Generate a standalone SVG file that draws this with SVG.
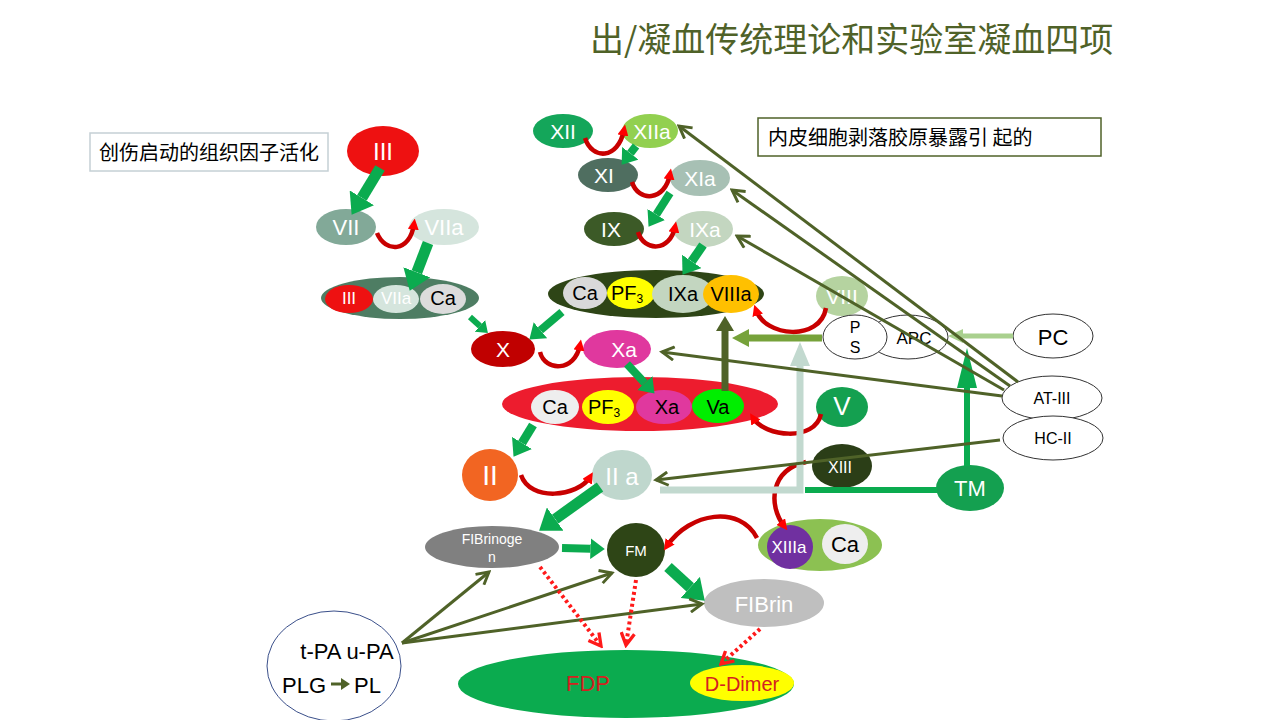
<svg xmlns="http://www.w3.org/2000/svg" width="1280" height="720" viewBox="0 0 1280 720">
<style>
.t{font-family:"Liberation Sans",Arial,sans-serif;text-anchor:middle;dominant-baseline:central}
.w{fill:#fff}
.k{fill:#000}
.cjk{font-family:"Noto Sans CJK SC",sans-serif}
.g{stroke:#0bab4f;fill:none;marker-end:url(#ga)}
.o{stroke:#4f6228;fill:none;stroke-width:3;marker-end:url(#oa)}
.r{stroke:#c80000;fill:none;stroke-width:4.5;marker-end:url(#ra)}
.d{stroke:#ff1a1a;fill:none;stroke-width:4;stroke-dasharray:3 3;marker-end:url(#da)}
</style>
<defs>
<marker id="ga" viewBox="0 0 10 10" refX="0" refY="5" markerWidth="1.8" markerHeight="2.6" preserveAspectRatio="none" orient="auto"><path d="M0,0 L10,5 L0,10z" fill="#0bab4f"/></marker>
<marker id="oa" viewBox="0 0 12 12" refX="10" refY="6" markerWidth="16" markerHeight="16" markerUnits="userSpaceOnUse" orient="auto"><path d="M1,1 L10,6 L1,11" fill="none" stroke="#4f6228" stroke-width="2.2"/></marker>
<marker id="ra" viewBox="0 0 10 10" refX="5" refY="5" markerWidth="11" markerHeight="11" markerUnits="userSpaceOnUse" orient="auto"><path d="M0,0 L10,5 L0,10z" fill="#ff0000"/></marker>
<marker id="da" viewBox="0 0 12 12" refX="10" refY="6" markerWidth="16" markerHeight="16" markerUnits="userSpaceOnUse" orient="auto"><path d="M1,1 L10,6 L1,11" fill="none" stroke="#ff1a1a" stroke-width="2.5"/></marker>
</defs>
<rect width="1280" height="720" fill="#fff"/>

<text x="590" y="52" class="cjk" font-size="34" fill="#4f6228">出/凝血传统理论和实验室凝血四项</text>

<g id="box1">
<rect x="90" y="133" width="238" height="38" fill="#fff" stroke="#c5d0d5" stroke-width="1.5"/>
<text x="99" y="160" class="cjk" font-size="20" fill="#000">创伤启动的组织因子活化</text>
</g>
<g id="box2">
<rect x="758" y="118" width="343" height="38" fill="#fff" stroke="#4f6228" stroke-width="1.5"/>
<text x="768" y="145" class="cjk" font-size="20" fill="#000">内皮细胞剥落胶原暴露引 起的</text>
</g>

<g id="nIII"><ellipse cx="383" cy="151" rx="36" ry="25" fill="#ee1111"/><text x="383" y="151" class="t w" font-size="24">III</text></g>
<g id="nVII"><ellipse cx="346" cy="227" rx="30" ry="18" fill="#82a998"/><text x="346" y="227" class="t w" font-size="22">VII</text></g>
<g id="nVIIa"><ellipse cx="444" cy="227" rx="35" ry="18" fill="#d5e5dd"/><text x="444" y="227" class="t w" font-size="22">VIIa</text></g>
<g id="cTF">
<ellipse cx="400" cy="298" rx="79" ry="21" fill="#4e7d63"/>
<ellipse cx="349" cy="299" rx="24" ry="14" fill="#ee1111"/><text x="349" y="298" class="t w" font-size="17">III</text>
<ellipse cx="396" cy="299" rx="23" ry="14" fill="#d5e5dd"/><text x="396" y="298" class="t w" font-size="17">VIIa</text>
<ellipse cx="443" cy="299" rx="23" ry="15" fill="#dcdcdc"/><text x="443" y="298" class="t k" font-size="20">Ca</text>
</g>

<g id="nXII"><ellipse cx="563" cy="131" rx="30" ry="17" fill="#14a65a"/><text x="563" y="131" class="t w" font-size="21">XII</text></g>
<g id="nXIIa"><ellipse cx="650" cy="131" rx="28" ry="17" fill="#92d050"/><text x="652" y="131" class="t w" font-size="21">XIIa</text></g>
<g id="nXI"><ellipse cx="608" cy="175" rx="30" ry="17" fill="#4f6e60"/><text x="604" y="175" class="t w" font-size="21">XI</text></g>
<g id="nXIa"><ellipse cx="700" cy="178" rx="30" ry="18" fill="#a7c0b4"/><text x="700" y="178" class="t w" font-size="21">XIa</text></g>
<g id="nIX"><ellipse cx="614" cy="229" rx="30" ry="17" fill="#3c5a27"/><text x="611" y="229" class="t w" font-size="21">IX</text></g>
<g id="nIXa"><ellipse cx="703" cy="229" rx="30" ry="18" fill="#c3d6c0"/><text x="705" y="229" class="t w" font-size="21">IXa</text></g>
<g id="cTen">
<ellipse cx="656" cy="294" rx="108" ry="24" fill="#2e4516"/>
<ellipse cx="585" cy="293" rx="22" ry="16" fill="#d9d9d9"/><text x="585" y="293" class="t k" font-size="20">Ca</text>
<ellipse cx="631" cy="293" rx="24" ry="16" fill="#ffff00"/><text x="627" y="293" class="t k" font-size="20">PF<tspan font-size="12" dy="6">3</tspan></text>
<ellipse cx="683" cy="294" rx="31" ry="19" fill="#c3d6c0"/><text x="683" y="294" class="t k" font-size="20">IXa</text>
<ellipse cx="731" cy="294" rx="28" ry="19" fill="#ffc000"/><text x="731" y="294" class="t k" font-size="20">VIIIa</text>
</g>
<g id="nVIII"><ellipse cx="842" cy="296" rx="26" ry="20" fill="#b5d3a0"/><text x="842" y="296" class="t w" font-size="21">VIII</text></g>
<g id="nAPC"><ellipse cx="908" cy="337" rx="40" ry="22" fill="#fff" stroke="#333" stroke-width="1"/><text x="914" y="338" class="t k" font-size="17">APC</text></g>
<g id="nPS"><ellipse cx="855" cy="337" rx="32" ry="22" fill="#fff" stroke="#333" stroke-width="1"/><text x="855" y="327" class="t k" font-size="16">P</text><text x="855" y="347" class="t k" font-size="16">S</text></g>
<g id="nPC"><ellipse cx="1053" cy="336" rx="40" ry="22" fill="#fff" stroke="#333" stroke-width="1"/><text x="1053" y="337" class="t k" font-size="22">PC</text></g>
<g id="nAT"><ellipse cx="1052" cy="398" rx="50" ry="22" fill="#fff" stroke="#333" stroke-width="1"/><text x="1052" y="398" class="t k" font-size="16">AT-III</text></g>
<g id="nHC"><ellipse cx="1053" cy="438" rx="50" ry="22" fill="#fff" stroke="#333" stroke-width="1"/><text x="1053" y="438" class="t k" font-size="16">HC-II</text></g>

<g id="nX"><ellipse cx="503" cy="349" rx="32" ry="18" fill="#c00000"/><text x="503" y="349" class="t w" font-size="21">X</text></g>
<g id="nXa"><ellipse cx="617" cy="349" rx="34" ry="19" fill="#e0389e"/><text x="624" y="349" class="t w" font-size="21">Xa</text></g>
<g id="cPro">
<ellipse cx="640" cy="404" rx="138" ry="27" fill="#ed1c2e"/>
<ellipse cx="555" cy="407" rx="24" ry="17" fill="#eeeeee"/><text x="555" y="407" class="t k" font-size="20">Ca</text>
<ellipse cx="608" cy="407" rx="26" ry="17" fill="#ffff00"/><text x="604" y="407" class="t k" font-size="20">PF<tspan font-size="12" dy="6">3</tspan></text>
<ellipse cx="664" cy="407" rx="28" ry="17" fill="#e0389e"/><text x="667" y="407" class="t k" font-size="20">Xa</text>
<ellipse cx="718" cy="406" rx="26" ry="17" fill="#00ee00"/><text x="718" y="407" class="t k" font-size="20">Va</text>
</g>
<g id="nV"><ellipse cx="842" cy="407" rx="26" ry="20" fill="#14a050"/><text x="842" y="406" class="t w" font-size="26">V</text></g>
<g id="nII"><ellipse cx="490" cy="475" rx="28" ry="26" fill="#f26522"/><text x="490" y="475" class="t w" font-size="28">II</text></g>
<g id="nIIa"><ellipse cx="622" cy="475" rx="30" ry="25" fill="#bfd7cd"/><text x="622" y="476" class="t w" font-size="24">II a</text></g>
<g id="nXIII"><ellipse cx="842" cy="466" rx="30" ry="22" fill="#2b3e17"/><text x="840" y="467" class="t w" font-size="16">XIII</text></g>
<g id="nTM"><ellipse cx="970" cy="488" rx="34" ry="23" fill="#14a050"/><text x="970" y="488" class="t w" font-size="22">TM</text></g>

<g id="nFbg"><ellipse cx="492" cy="547" rx="67" ry="21" fill="#808080"/><text x="492" y="539" class="t w" font-size="14">FIBrinoge</text><text x="492" y="557" class="t w" font-size="14">n</text></g>
<g id="nFM"><ellipse cx="636" cy="550" rx="29" ry="27" fill="#2e4516"/><text x="636" y="550" class="t w" font-size="15">FM</text></g>
<g id="cXIIIa">
<ellipse cx="820" cy="545" rx="62" ry="26" fill="#8cc152"/>
<ellipse cx="790" cy="547" rx="23" ry="22" fill="#7030a0"/><text x="789" y="547" class="t w" font-size="17">XIIIa</text>
<ellipse cx="845" cy="544" rx="23" ry="20" fill="#eeeeee"/><text x="845" y="544" class="t k" font-size="22">Ca</text>
</g>
<g id="nFbn"><ellipse cx="764" cy="603" rx="60" ry="24" fill="#bfbfbf"/><text x="764" y="604" class="t w" font-size="22">FIBrin</text></g>

<g id="nPA">
<ellipse cx="334" cy="666" rx="67" ry="55" fill="#fff" stroke="#3a4f8a" stroke-width="1"/>
<text x="347" y="651" class="t k" font-size="22">t-PA u-PA</text>
<text x="282" y="685" class="t k" font-size="22" style="text-anchor:start">PLG</text>
<text x="354" y="685" class="t k" font-size="22" style="text-anchor:start">PL</text>
<line x1="331" y1="684" x2="343" y2="684" stroke="#4f6228" stroke-width="3"/>
<path d="M341,678 L350,684 L341,690z" fill="#4f6228"/>
</g>

<g id="nFDP">
<ellipse cx="626" cy="684" rx="168" ry="34" fill="#0bab4f"/>
<text x="588" y="683" class="t" font-size="22" fill="#d42020">FDP</text>
<ellipse cx="742" cy="683" rx="52" ry="18" fill="#ffff00"/>
<text x="742" y="684" class="t" font-size="20" fill="#d42020">D-Dimer</text>
</g>

<g id="connectors">
<line class="g" x1="380" y1="168" x2="361.9" y2="197.8" stroke-width="11"/>
<line class="g" x1="428" y1="243" x2="416.8" y2="272.3" stroke-width="11"/>
<line class="g" x1="470" y1="317" x2="479.9" y2="325.9" stroke-width="6"/>
<line class="g" x1="636" y1="146" x2="630.4" y2="153.3" stroke-width="8"/>
<line class="g" x1="670" y1="193" x2="656.3" y2="214.5" stroke-width="8"/>
<line class="g" x1="703" y1="245" x2="691.7" y2="261.4" stroke-width="9"/>
<line class="g" x1="562" y1="312" x2="540.4" y2="330.2" stroke-width="8"/>
<line class="g" x1="627" y1="364" x2="644.7" y2="383" stroke-width="8"/>
<line class="g" x1="533" y1="425" x2="522" y2="443" stroke-width="9"/>
<line class="g" x1="600" y1="487" x2="555.2" y2="519.1" stroke-width="11"/>
<line class="g" x1="562" y1="548" x2="590.4" y2="548.7" stroke-width="8"/>
<line class="g" x1="668" y1="567" x2="690.2" y2="587.4" stroke-width="11"/>

<path class="r" d="M585,138 C592,160 618,160 624,130"/>
<path class="r" d="M632,182 C638,202 665,202 670,174"/>
<path class="r" d="M638,232 C644,252 670,252 675,227"/>
<path class="r" d="M377,233 C385,253 410,253 414,224"/>
<path class="r" d="M540,352 C545,372 575,372 580,345"/>
<path class="r" d="M521,475 C530,502 578,497 590,477"/>
<path class="r" d="M826,308 C820,342 765,337 756,310"/>
<path class="r" d="M821,414 C815,442 765,437 753,418"/>
<path class="r" d="M806,462 C770,470 768,505 784,526"/>
<path class="r" d="M757,538 C740,505 690,512 667,546"/>

<line x1="725" y1="391" x2="725" y2="330" stroke="#4f6228" stroke-width="7"/>
<path d="M716,331 L725,316 L734,331z" fill="#4f6228"/>
<line x1="822" y1="338" x2="748" y2="338" stroke="#76a23a" stroke-width="7"/>
<path d="M749,329 L732,338 L749,347z" fill="#76a23a"/>
<line x1="1013" y1="336" x2="962" y2="336" stroke="#a9d08e" stroke-width="5"/>
<path d="M963,329 L948,336 L963,343z" fill="#a9d08e"/>
<path d="M660,490 L800,490 L800,365" fill="none" stroke="#c2d9cf" stroke-width="7"/>
<path d="M790,366 L800,342 L810,366z" fill="#c2d9cf"/>
<path d="M805,490 L937,490" fill="none" stroke="#0bab4f" stroke-width="6"/>
<line x1="967" y1="466" x2="967" y2="385" stroke="#0bab4f" stroke-width="6"/>
<path d="M957,388 L967,348 L977,388z" fill="#0bab4f"/>

<line class="o" x1="1018" y1="382" x2="679" y2="126" stroke-width="4"/>
<line class="o" x1="1010" y1="386" x2="732" y2="190" stroke-width="4"/>
<line class="o" x1="1004" y1="390" x2="737" y2="236" stroke-width="4"/>
<line class="o" x1="1002" y1="396" x2="662" y2="352" stroke-width="4"/>
<line class="o" x1="1000" y1="440" x2="656" y2="480"/>
<line class="o" x1="402" y1="643" x2="489" y2="572"/>
<line class="o" x1="402" y1="643" x2="612" y2="573"/>
<line class="o" x1="402" y1="643" x2="702" y2="604"/>

<line class="d" x1="540" y1="567" x2="601" y2="646"/>
<line class="d" x1="636" y1="580" x2="626" y2="645"/>
<line class="d" x1="760" y1="629" x2="721" y2="664"/>
</g>
</svg>
